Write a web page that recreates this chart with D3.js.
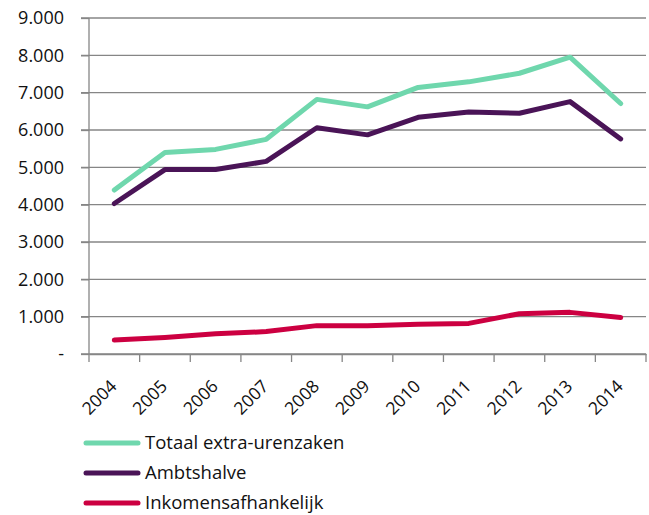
<!DOCTYPE html>
<html>
<head>
<meta charset="utf-8" />
<title>Extra-urenzaken</title>
<style>
    body { margin: 0; background: #fff; }
    text { font-family: "Open Sans", "Liberation Sans", sans-serif; fill: #111; }
</style>
</head>
<body>
<svg width="649" height="515"></svg>
<script src="https://cdn.jsdelivr.net/npm/d3@7/dist/d3.min.js"></script>
<script>
    var jaren = ['2004', '2005', '2006', '2007', '2008', '2009', '2010', '2011', '2012', '2013', '2014'];
    var totaal = [4390, 5400, 5480, 5750, 6820, 6620, 7140, 7290, 7520, 7950, 6710];
    var ambtshalve = [4030, 4940, 4940, 5160, 6060, 5870, 6340, 6480, 6450, 6760, 5760];
    var inkomens = [375, 445, 540, 600, 760, 760, 800, 820, 1080, 1115, 980];
    var yTicks = [0, 1000, 2000, 3000, 4000, 5000, 6000, 7000, 8000, 9000];

    var reeksen = [
        { naam: 'Totaal extra-urenzaken', waarden: totaal, kleur: '#6fd7ad' },
        { naam: 'Ambtshalve', waarden: ambtshalve, kleur: '#4a1457' },
        { naam: 'Inkomensafhankelijk', waarden: inkomens, kleur: '#cc0041' }
    ];

    var svg = d3.select('svg');
    var links = 89, rechts = 646, boven = 18, onder = 354;

    var x = d3.scaleBand().domain(jaren).range([links, rechts]);
    var y = d3.scaleLinear().domain([0, 9000]).range([onder, boven]);

    // rasterlijnen
    svg.append('g')
        .selectAll('line')
        .data(yTicks)
        .enter()
        .append('line')
        .attr('x1', links - 8)
        .attr('x2', rechts)
        .attr('y1', function (d) { return y(d); })
        .attr('y2', function (d) { return y(d); })
        .attr('stroke', '#868686')
        .attr('stroke-width', 1.3);

    // y-as
    var yAs = svg.append('g')
        .attr('transform', 'translate(' + links + ',0)')
        .call(d3.axisLeft(y).tickValues(yTicks).tickSize(8).tickPadding(17)
            .tickFormat(function (d) {
                return d === 0 ? '-' : d3.format(',')(d).replace(/,/g, '.');
            }));
    yAs.selectAll('line, path').attr('stroke', '#868686').attr('stroke-width', 1.3);
    yAs.selectAll('text').style('font-size', '18px').style('font-family', '"Open Sans", sans-serif').attr('fill', '#111');
    yAs.select('path').attr('d', 'M0,' + onder + 'V' + boven);

    // x-as
    var xAs = svg.append('g')
        .attr('transform', 'translate(0,' + onder + ')')
        .call(d3.axisBottom(x).tickSize(0).tickSizeOuter(0));
    xAs.select('path').attr('stroke', '#868686').attr('stroke-width', 1.3);
    xAs.selectAll('text')
        .style('font-size', '17.5px')
        .style('font-family', '"Open Sans", sans-serif')
        .attr('fill', '#111')
        .attr('text-anchor', 'end')
        .attr('dy', '0.35em')
        .attr('transform', 'translate(-3,27) rotate(-45)');
    // streepjes tussen de categorieën
    xAs.append('g')
        .selectAll('line')
        .data(jaren.concat(['einde']))
        .enter()
        .append('line')
        .attr('x1', function (d, i) { return links + i * x.step(); })
        .attr('x2', function (d, i) { return links + i * x.step(); })
        .attr('y1', 0)
        .attr('y2', 8)
        .attr('stroke', '#868686')
        .attr('stroke-width', 1.3);

    // lijnen
    var lijn = d3.line()
        .x(function (d, i) { return x(jaren[i]) + x.bandwidth() / 2; })
        .y(function (d) { return y(d); });

    svg.append('g')
        .selectAll('path')
        .data(reeksen.slice().reverse())
        .enter()
        .append('path')
        .attr('d', function (d) { return lijn(d.waarden); })
        .attr('fill', 'none')
        .attr('stroke', function (d) { return d.kleur; })
        .attr('stroke-width', 5)
        .attr('stroke-linecap', 'round')
        .attr('stroke-linejoin', 'round');

    // legenda
    var legenda = svg.append('g')
        .selectAll('g')
        .data(reeksen)
        .enter()
        .append('g')
        .attr('transform', function (d, i) { return 'translate(0,' + (443 + i * 30) + ')'; });
    legenda.append('line')
        .attr('x1', 86)
        .attr('x2', 138)
        .attr('stroke', function (d) { return d.kleur; })
        .attr('stroke-width', 5)
        .attr('stroke-linecap', 'round');
    legenda.append('text')
        .attr('x', 145)
        .attr('dy', '0.35em')
        .style('font-size', '18.5px')
        .text(function (d) { return d.naam; });
</script>
</body>
</html>
